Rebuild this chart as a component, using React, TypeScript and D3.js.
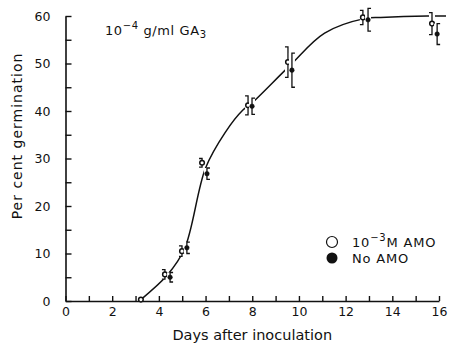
import * as d3 from "d3";
import { useEffect, useRef } from "react";

// values
const openDays = [3.23, 4.26, 4.99, 5.85, 7.82, 9.53, 12.74, 15.7];
const openPct = [0.3, 5.6, 10.5, 29.1, 41.2, 50.3, 59.7, 58.4];
const openErr = [0, 1.0, 1.1, 0.9, 2.0, 3.2, 1.5, 2.3];

const filledDays = [4.48, 5.2, 6.06, 7.99, 9.7, 12.96, 15.92];
const filledPct = [5.0, 11.2, 26.8, 41.0, 48.6, 59.2, 56.2];
const filledErr = [1.0, 1.2, 1.2, 1.7, 3.6, 2.4, 2.2];

// hand-fitted curve
const curveDays = [3.23, 4.35, 5.1, 6.0, 6.83, 7.6, 7.9, 9.6, 11.1, 12.85, 13.5, 15.5, 16.3];
const curvePct = [0.3, 5.4, 11.0, 28.0, 35.4, 40.2, 41.3, 49.5, 56.4, 59.5, 59.7, 60, 60];

const xTicks = d3.range(0, 17, 1);
const yTicks = d3.range(0, 61, 5);

const W = 451, H = 344;
const FONT = "'DejaVu Sans', sans-serif";

export default function App() {
	const svgRef = useRef(null);

	useEffect(() => {
		const svg = d3.select(svgRef.current);
		svg.selectAll("*").remove();

		const x = d3.scaleLinear().domain([0, 16]).range([65.5, 439]);
		const y = d3.scaleLinear().domain([0, 60]).range([301, 16]);

		// fitted curve
		const line = d3
			.line<number>()
			.x((_, i) => x(curveDays[i]))
			.y((_, i) => y(curvePct[i]))
			.curve(d3.curveCatmullRom.alpha(0.5));
		svg.append("path")
			.datum(curvePct)
			.attr("d", line)
			.attr("fill", "none")
			.attr("stroke", "#111")
			.attr("stroke-width", 1.5);

		// axes
		const xAxis = svg.append("g")
			.attr("transform", `translate(0,${y(0)})`)
			.call(
				d3.axisBottom(x)
					.tickValues(xTicks)
					.tickSizeInner(-5)
					.tickSizeOuter(0)
					.tickPadding(6)
					.tickFormat((d) => (+d % 2 === 0 ? String(d) : ""))
			);
		const yAxis = svg.append("g")
			.attr("transform", `translate(${x(0)},0)`)
			.call(
				d3.axisLeft(y)
					.tickValues(yTicks)
					.tickSizeInner(-6)
					.tickSizeOuter(0)
					.tickPadding(15)
					.tickFormat((d) => (+d % 10 === 0 ? String(d) : ""))
			);
		for (const ax of [xAxis, yAxis]) {
			ax.select(".domain").attr("stroke", "#111").attr("stroke-width", 1.6);
			ax.selectAll(".tick line").attr("stroke", "#111").attr("stroke-width", 1.4);
			ax.selectAll("text")
				.attr("fill", "#111")
				.attr("font-family", FONT)
				.attr("font-size", 12.5);
		}

		// error bars with one-sided caps (open: caps left, filled: caps right)
		const drawSeries = (days, pct, err, capDir, open) => {
			const g = svg.append("g");
			days.forEach((d, i) => {
				const cx = x(d);
				const y0 = y(pct[i] - err[i]);
				const y1 = y(pct[i] + err[i]);
				if (err[i] > 0) {
					g.append("path")
						.attr("d", `M${cx},${y0}V${y1}`)
						.attr("stroke", "#fff")
						.attr("stroke-width", 6);
					g.append("path")
						.attr("d", `M${cx + capDir * 3},${y1}H${cx}V${y0}H${cx + capDir * 3}`)
						.attr("fill", "none")
						.attr("stroke", "#111")
						.attr("stroke-width", 1.3);
				}
				g.append("circle")
					.attr("cx", cx)
					.attr("cy", y(pct[i]))
					.attr("r", 2.3)
					.attr("fill", open ? "#fff" : "#111")
					.attr("stroke", "#111")
					.attr("stroke-width", open ? 1.5 : 0.5);
			});
		};
		drawSeries(openDays, openPct, openErr, -1, true);
		drawSeries(filledDays, filledPct, filledErr, 1, false);

		// axis titles
		svg.append("text")
			.attr("x", (x(0) + x(16)) / 2)
			.attr("y", 340)
			.attr("text-anchor", "middle")
			.attr("font-family", FONT)
			.attr("font-size", 14.5)
			.attr("fill", "#111")
			.text("Days after inoculation");
		svg.append("text")
			.attr("transform", `translate(22,136) rotate(-90)`)
			.attr("text-anchor", "middle")
			.attr("font-family", FONT)
			.attr("font-size", 14)
			.attr("letter-spacing", 1)
			.attr("fill", "#111")
			.text("Per cent germination");

		// treatment label
		const t = svg.append("text")
			.attr("x", 105)
			.attr("y", 35)
			.attr("font-family", FONT)
			.attr("font-size", 13)
			.attr("letter-spacing", 0.6)
			.attr("fill", "#111");
		t.append("tspan").text("10");
		t.append("tspan").attr("dy", -6).attr("font-size", 10).text("−4");
		t.append("tspan").attr("dy", 6).text(" g/ml GA");
		t.append("tspan").attr("dy", 3).attr("font-size", 10).text("3");

		// legend
		const lg = svg.append("g").attr("transform", "translate(332,242)");
		lg.append("circle").attr("r", 5.5).attr("fill", "#fff").attr("stroke", "#111").attr("stroke-width", 1.2);
		lg.append("circle").attr("cy", 16).attr("r", 5.5).attr("fill", "#111");
		const l1 = lg.append("text").attr("x", 20).attr("y", 4.5)
			.attr("font-family", FONT).attr("font-size", 13).attr("letter-spacing", 0.8).attr("fill", "#111");
		l1.append("tspan").text("10");
		l1.append("tspan").attr("dy", -6).attr("font-size", 10).text("−3");
		l1.append("tspan").attr("dy", 6).text("M AMO");
		lg.append("text").attr("x", 20).attr("y", 20.5)
			.attr("font-family", FONT).attr("font-size", 13).attr("letter-spacing", 0.8).attr("fill", "#111")
			.text("No AMO");
	}, []);

	return (
		<svg
			ref={svgRef}
			width={W}
			height={H}
			style={{ position: "absolute", left: 0, top: 0, background: "#fff" }}
		/>
	);
}
